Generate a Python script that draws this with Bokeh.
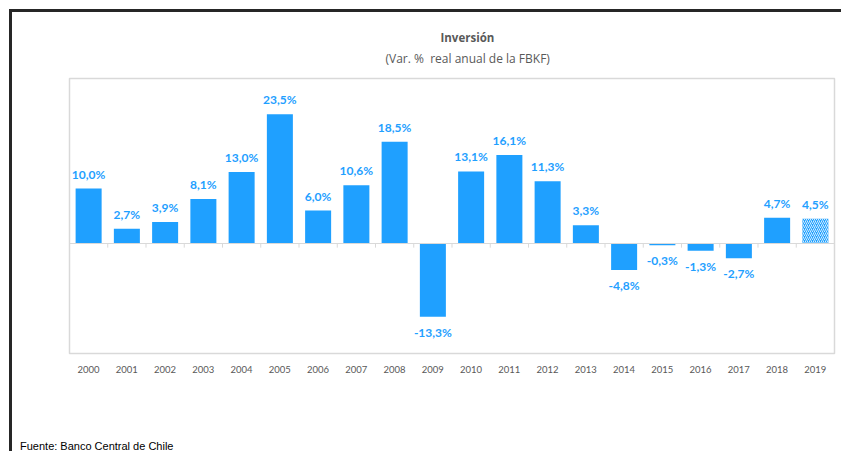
from bokeh.plotting import figure
from bokeh.models import Range1d, ColumnDataSource, LabelSet, Span, Title, Div
from bokeh.layouts import column
from bokeh.core.properties import value
from bokeh.embed import file_html
from bokeh.resources import INLINE

years = [str(y) for y in range(2000, 2020)]
values = [10.0, 2.7, 3.9, 8.1, 13.0, 23.5, 6.0, 10.6, 18.5, -13.3,
          13.1, 16.1, 11.3, 3.3, -4.8, -0.3, -1.3, -2.7, 4.7, 4.5]
projected = ["2019"]
title_text = "Inversión"
subtitle_text = "(Var. %\u00a0 real anual de la FBKF)"
source_text = "Fuente: Banco Central de Chile"

BLUE = "#1FA0FF"
FONT = "Lato"

def fmt(v):
    return ("%.1f%%" % v).replace(".", ",")

p = figure(x_range=years, y_range=Range1d(-20, 30), width=829, height=427,
           output_backend="svg", toolbar_location=None,
           min_border_left=57, min_border_right=7, min_border_top=66, min_border_bottom=86)

act = ColumnDataSource(dict(x=[y for y in years if y not in projected],
                            top=[v for y, v in zip(years, values) if y not in projected]))
est = ColumnDataSource(dict(x=[y for y in years if y in projected],
                            top=[v for y, v in zip(years, values) if y in projected]))
p.vbar(x="x", top="top", width=0.68, source=act, fill_color=BLUE, line_color=None)
p.vbar(x="x", top="top", width=0.68, source=est, fill_color=BLUE, line_color=None,
       hatch_pattern="/", hatch_color="white", hatch_weight=0.8, hatch_scale=4)

p.add_layout(Span(location=0, dimension="width", line_color="#D9D9D9", line_width=1))
# small category separator ticks on the zero line
p.segment(x0=list(range(1, len(years))), x1=list(range(1, len(years))),
          y0=0, y1=-0.75, line_color="#D9D9D9", line_width=1)

pos = ColumnDataSource(dict(x=[y for y, v in zip(years, values) if v >= 0],
                            y=[v for v in values if v >= 0],
                            t=[fmt(v) for v in values if v >= 0]))
neg = ColumnDataSource(dict(x=[y for y, v in zip(years, values) if v < 0],
                            y=[v for v in values if v < 0],
                            t=[fmt(v) for v in values if v < 0]))
p.add_layout(LabelSet(x="x", y="y", text="t", source=pos, text_align="center",
                      text_baseline="bottom", y_offset=7, text_font=value(FONT),
                      text_font_style="bold", text_font_size="12px", text_color=BLUE))
p.add_layout(LabelSet(x="x", y="y", text="t", source=neg, text_align="center",
                      text_baseline="top", y_offset=-8, text_font=value(FONT),
                      text_font_style="bold", text_font_size="12px", text_color=BLUE))

p.add_layout(Title(text=subtitle_text, align="left", offset=316, standoff=23,
                   text_font="Open Sans", text_font_style="normal", text_font_size="12px",
                   text_color="#595959"), "above")
p.add_layout(Title(text=title_text, align="left", offset=371, standoff=-17,
                   text_font="Open Sans", text_font_style="bold", text_font_size="11.5px",
                   text_color="#595959"), "above")

p.yaxis.visible = False
p.xgrid.visible = False
p.ygrid.visible = False
p.xaxis.axis_line_color = None
p.xaxis.major_tick_line_color = None
p.xaxis.minor_tick_line_color = None
p.xaxis.major_label_standoff = 6
p.xaxis.major_label_text_font = FONT
p.xaxis.major_label_text_font_size = "9.5px"
p.xaxis.major_label_text_color = "#595959"
p.outline_line_color = "#D9D9D9"
p.outline_line_width = 1.5
p.background_fill_color = "white"
p.border_fill_color = "white"

src = Div(text=source_text, width=300, height=12, margin=(0, 0, 0, 8),
          styles={"font-family": "'Liberation Sans', Arial, sans-serif",
                  "font-size": "11px", "color": "#000000", "line-height": "14px"})

layout = column(p, src, spacing=0,
                styles={"border-top": "3px solid #262626", "border-left": "3px solid #262626",
                        "margin-left": "9px", "margin-top": "9px"})

open("out.html", "w").write(file_html(layout, INLINE))
